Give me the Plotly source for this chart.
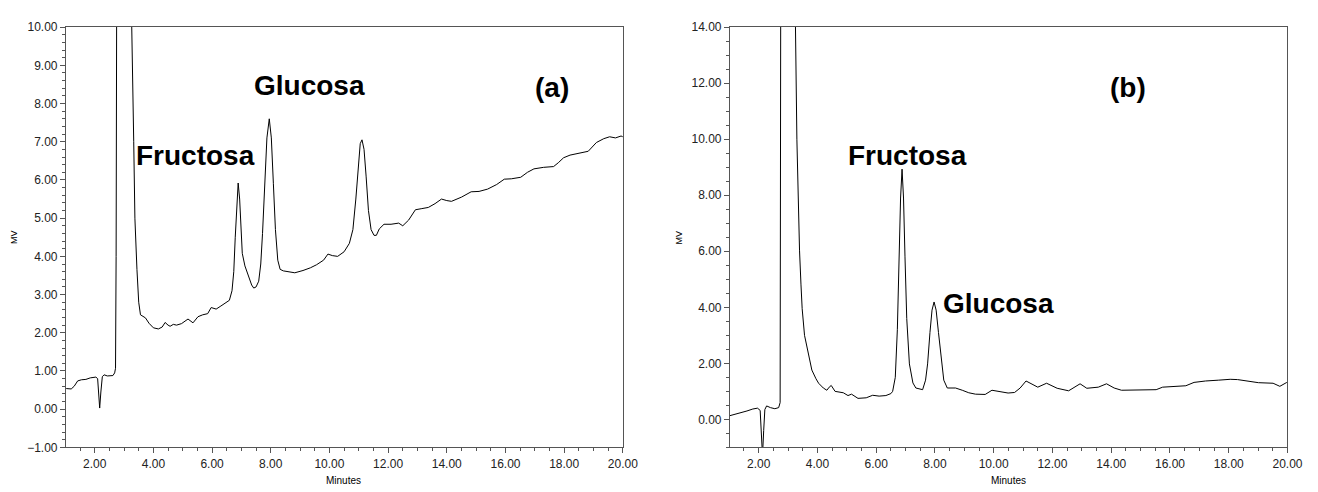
import plotly.graph_objects as go

# ---- Data: chromatogram (a) ----
t_a = [1.03, 1.2, 1.3, 1.42, 1.55, 1.7, 1.85, 2.04, 2.1, 2.14, 2.17, 2.21, 2.26, 2.32, 2.43, 2.62, 2.68, 2.71,
       2.73, 2.75, 3.0, 3.24, 3.28, 3.33, 3.37, 3.40, 3.44, 3.5, 3.56, 3.73, 3.85, 4.0, 4.17, 4.3, 4.4, 4.5,
       4.57, 4.68, 4.79, 4.96, 5.18, 5.35, 5.52, 5.68, 5.85, 5.97, 6.14, 6.3, 6.45, 6.59, 6.68, 6.74, 6.79,
       6.84, 6.89, 6.94, 6.98, 7.03, 7.12, 7.25, 7.35, 7.42, 7.5, 7.59, 7.66, 7.72, 7.8, 7.87, 7.95, 8.02,
       8.09, 8.16, 8.24, 8.32, 8.43, 8.6, 8.82, 9.1, 9.35, 9.56, 9.8, 9.95, 10.1, 10.28, 10.5, 10.68, 10.8,
       10.9, 10.98, 11.05, 11.11, 11.18, 11.25, 11.33, 11.42, 11.52, 11.6, 11.7, 11.86, 12.1, 12.36, 12.5,
       12.7, 12.93, 13.15, 13.37, 13.6, 13.82, 14.0, 14.16, 14.5, 14.83, 15.1, 15.39, 15.7, 15.96, 16.2,
       16.52, 16.75, 16.97, 17.3, 17.64, 17.8, 17.98, 18.2, 18.42, 18.82, 19.1, 19.35, 19.55, 19.75, 19.94, 20.0]
mv_a = [0.54, 0.53, 0.6, 0.74, 0.77, 0.78, 0.82, 0.84, 0.8, 0.4, 0.03, 0.45, 0.85, 0.9, 0.87, 0.88, 0.95, 1.07,
        4.0, 11.0, 16.0, 11.0, 9.5, 7.0, 5.0, 4.2, 3.66, 2.8, 2.47, 2.39, 2.25, 2.13, 2.1, 2.15, 2.27, 2.2,
        2.17, 2.22, 2.2, 2.24, 2.36, 2.26, 2.42, 2.47, 2.5, 2.66, 2.62, 2.7, 2.77, 2.85, 3.1, 3.6, 4.5,
        5.4, 5.92, 5.5, 4.8, 4.08, 3.75, 3.49, 3.25, 3.17, 3.2, 3.35, 3.8, 4.6, 5.9, 7.1, 7.6, 7.1,
        5.9, 4.7, 3.9, 3.66, 3.62, 3.59, 3.57, 3.63, 3.7, 3.78, 3.9, 4.06, 4.02, 4.0, 4.12, 4.34, 4.7,
        5.5, 6.4, 6.95, 7.05, 6.8, 6.1, 5.2, 4.7, 4.55, 4.55, 4.72, 4.84, 4.84, 4.87, 4.8,
        4.95, 5.22, 5.25, 5.28, 5.38, 5.5, 5.46, 5.44, 5.55, 5.69, 5.7, 5.76, 5.88, 6.02, 6.03,
        6.07, 6.2, 6.29, 6.33, 6.35, 6.45, 6.58, 6.65, 6.69, 6.75, 6.98, 7.08, 7.13, 7.1, 7.15, 7.13]

# ---- Data: chromatogram (b) ----
t_b = [1.01, 1.2, 1.4, 1.6, 1.8, 1.96, 2.05, 2.09, 2.13, 2.17, 2.21, 2.27, 2.4, 2.55, 2.68, 2.73, 2.75, 3.0,
       3.24, 3.3, 3.34, 3.39, 3.44, 3.48, 3.56, 3.67, 3.81, 3.95, 4.04, 4.2, 4.32, 4.4, 4.47, 4.6, 4.75, 4.88,
       5.04, 5.16, 5.38, 5.66, 5.88, 6.1, 6.33, 6.5, 6.56, 6.65, 6.72, 6.78, 6.83, 6.88, 6.93, 6.98, 7.04,
       7.13, 7.25, 7.35, 7.58, 7.68, 7.75, 7.83, 7.9, 7.97, 8.04, 8.12, 8.19, 8.3, 8.42, 8.7, 8.93, 9.15,
       9.38, 9.71, 9.94, 10.2, 10.49, 10.71, 10.9, 11.1, 11.3, 11.5, 11.8, 12.16, 12.55, 12.94, 13.17, 13.56,
       13.84, 14.1, 14.35, 14.85, 15.2, 15.53, 15.75, 16.2, 16.54, 16.82, 17.21, 17.66, 18.05, 18.3, 18.56,
       19.01, 19.51, 19.74, 19.96, 20.0]
mv_b = [0.13, 0.18, 0.25, 0.3, 0.37, 0.4, 0.32, -0.3, -1.3, -0.4, 0.35, 0.48, 0.42, 0.38, 0.42, 0.6, 15.0, 22.0,
        15.0, 10.0, 7.77, 6.04, 4.8, 3.95, 3.0, 2.45, 1.76, 1.45, 1.29, 1.12, 1.04, 1.15, 1.21, 1.0, 0.98, 0.95,
        0.85, 0.9, 0.75, 0.77, 0.86, 0.83, 0.85, 0.92, 1.0, 1.5, 3.2, 5.8, 7.9, 8.93, 7.9, 5.8, 3.6,
        1.98, 1.3, 1.12, 1.06, 1.4, 1.98, 3.1, 3.9, 4.19, 3.9, 3.1, 2.33, 1.4, 1.12, 1.12, 1.04, 0.95,
        0.9, 0.89, 1.04, 0.98, 0.94, 0.96, 1.12, 1.37, 1.25, 1.15, 1.29, 1.11, 1.02, 1.27, 1.11, 1.15,
        1.27, 1.12, 1.04, 1.04, 1.05, 1.06, 1.15, 1.18, 1.2, 1.32, 1.37, 1.4, 1.43, 1.42, 1.38,
        1.31, 1.29, 1.18, 1.31, 1.33]

x_title = "Minutes"
y_title = "MV"

W, H = 1318, 492
FONT = "Liberation Sans, Arial, sans-serif"
AX = "#555555"

fig = go.Figure()
fig.add_trace(go.Scatter(x=t_a, y=mv_a, mode="lines", line=dict(color="black", width=1),
                         xaxis="x", yaxis="y", showlegend=False, hoverinfo="skip"))
fig.add_trace(go.Scatter(x=t_b, y=mv_b, mode="lines", line=dict(color="black", width=1),
                         xaxis="x2", yaxis="y2", showlegend=False, hoverinfo="skip"))

def xax(domain, anchor):
    return dict(domain=domain, anchor=anchor, range=[1.02, 20], tick0=0, dtick=2, tickformat=".2f",
                showgrid=False, zeroline=False, showline=True, linecolor=AX, linewidth=1, mirror=True,
                ticks="outside", ticklen=5, tickcolor=AX, tickwidth=1,
                minor=dict(ticks="outside", dtick=0.5, tick0=0, ticklen=3, tickcolor=AX, showgrid=False),
                tickfont=dict(family=FONT, size=12, color="#222"))

def yax(domain, anchor, rng, dt, mdt):
    return dict(domain=domain, anchor=anchor, range=rng, tick0=0, dtick=dt, tickformat=".2f",
                showgrid=False, zeroline=False, showline=True, linecolor=AX, linewidth=1, mirror=True,
                ticks="outside", ticklen=5, tickcolor=AX, tickwidth=1,
                minor=dict(ticks="outside", dtick=mdt, tick0=0, ticklen=3, tickcolor=AX, showgrid=False),
                tickfont=dict(family=FONT, size=12, color="#222"))

ydom = [(H - 453.3) / H, (H - 20.7) / H]
fig.update_layout(
    width=W, height=H, margin=dict(l=0, r=0, t=0, b=0),
    paper_bgcolor="white", plot_bgcolor="white",
    xaxis=xax([66.7 / W, 630 / W], "y"),
    yaxis=yax(ydom, "x", [-1, 10], 1, 0.2),
    xaxis2=xax([738.3 / W, 1302.3 / W], "y2"),
    yaxis2=yax(ydom, "x2", [-1, 14], 2, 0.5),
)

def px(x, y):
    return x / W, 1 - y / H

anns = []
def lab(text, x, y, size=28, bold=True, angle=0):
    xx, yy = px(x, y)
    anns.append(dict(text=("<b>%s</b>" % text) if bold else text, x=xx, y=yy, xref="paper", yref="paper",
                     showarrow=False, xanchor="center", yanchor="middle", textangle=angle,
                     font=dict(family=FONT, size=size, color="black")))

lab("Glucosa", 313.5, 81)
lab("Fructosa", 198, 153)
lab("(a)", 558, 83)
lab("Fructosa", 918, 153)
lab("Glucosa", 1010, 305)
lab("(b)", 1141, 83)
lab(x_title, 347, 487, size=10, bold=False)
lab(x_title, 1020, 487, size=10, bold=False)
lab(y_title, 14, 237, size=9, bold=False, angle=-90)
lab(y_title, 687, 237, size=9, bold=False, angle=-90)
fig.update_layout(annotations=anns)

fig.write_html("out.html")
